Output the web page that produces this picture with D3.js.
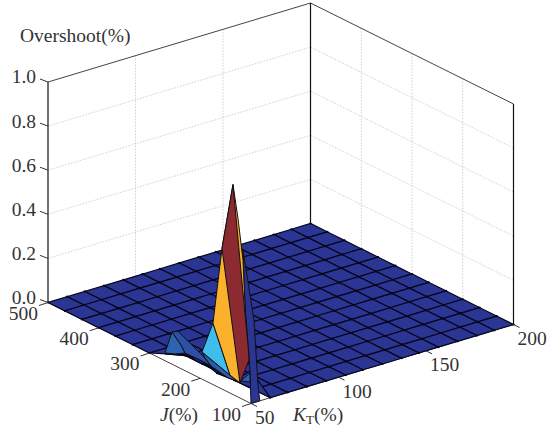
<!DOCTYPE html>
<html>
<head>
<meta charset="utf-8">
<script src="https://cdn.jsdelivr.net/npm/d3@7"></script>
<style>
  html, body { margin: 0; padding: 0; background: #fff; }
  text { font-family: "Liberation Serif", serif; font-size: 19.5px; fill: #333; }
</style>
</head>
<body>
<div id="chart"></div>
<script>
const kTicks = [50, 100, 150, 200];
const jTicks = [100, 200, 300, 400, 500];
const zTicks = [0, 0.2, 0.4, 0.6, 0.8, 1.0];

// mesh lines of the surface
const kGrid = [50, 61, 71, 82, 93, 104, 114, 125, 136, 146, 157, 168, 179, 189, 200];
const jGrid = [100, 133, 167, 200, 233, 267, 300, 333, 367, 400, 433, 467, 500];
// overshoot along the K=50 edge, same order as jGrid. everything else on the mesh is 0
const edgeOvershoot = [0.15, 0.068, 0.061, 0.084, 0.072, 0.034, 0, 0, 0, 0, 0, 0, 0];

// raised facets near the corner: [K, J, overshoot]
const stripFacet = [[50, 100, 0], [55, 100, 0], [60, 120.7, 0.036], [60, 128.6, 0.321], [60, 150.2, 0.613], [60, 146.3, 0.369], [60, 136.5, 0.086]];
const bumpFront = [[60, 290.1, 0.083], [50, 269.5, 0.035], [50, 249.8, 0.053], [50, 230, 0.08], [60, 272.4, 0.044]];
const bumpSide = [[60, 290.1, 0.083], [60, 278.3, 0.1], [60, 225.1, 0.039], [50, 178.8, 0.08], [50, 200.5, 0.082], [50, 230, 0.08], [60, 272.4, 0.044]];
const shoulder = [[60, 231, 0.06], [60, 175.9, 0.018], [50, 125.6, 0.072], [50, 145.3, 0.064], [50, 178.8, 0.08], [60, 225.1, 0.039]];
const lowSlope = [[60, 209.4, 0.215], [60, 231, 0.06], [60, 175.9, 0.018]];
const midSlope = [[60, 170, 0.889], [60, 160.1, 0.747], [60, 150.2, 0.568], [60, 146.3, 0.369], [60, 156.2, 0.005], [60, 175.9, 0.018], [60, 209.4, 0.215], [60, 191.6, 0.575]];
const topSlope = [[60, 170, 0.889], [60, 191.6, 0.575], [60, 156.2, 0.005], [60, 138.4, 0.129], [60, 140.4, 0.195], [60, 156.2, 0.561]];
const footFacet = [[60, 154.2, 0.016], [60, 136.5, 0.073], [60, 136.5, 0.032]];

const width = 559;
const height = 430;

const svg = d3.select("#chart").append("svg")
  .attr("width", width)
  .attr("height", height);

// oblique projection, one pixel scale per data axis and screen direction
const kX = d3.scaleLinear().domain([50, 200]).range([0, 262.5]);
const kY = d3.scaleLinear().domain([50, 200]).range([0, -79]);
const jX = d3.scaleLinear().domain([100, 500]).range([0, -203]);
const jY = d3.scaleLinear().domain([100, 500]).range([0, -101]);
const zY = d3.scaleLinear().domain([0, 1]).range([0, -220.5]);

const project = (k, j, z) => [251 + kX(k) + jX(j), 403.5 + kY(k) + jY(j) + zY(z)];
const line = d3.line();
const polyPath = pts => line(pts.map(p => project(p[0], p[1], p[2]))) + "Z";

function seg(a, b, stroke, sw, dash) {
  const p = project(a[0], a[1], a[2]);
  const q = project(b[0], b[1], b[2]);
  svg.append("line")
    .attr("x1", p[0]).attr("y1", p[1])
    .attr("x2", q[0]).attr("y2", q[1])
    .attr("stroke", stroke)
    .attr("stroke-width", sw)
    .attr("stroke-dasharray", dash || null);
}

// dotted grid on both back walls
const gridColor = "#c4c4c4";
zTicks.slice(1, 5).forEach(z => {
  seg([50, 500, z], [200, 500, z], gridColor, 0.8, "1.5 1.5");
  seg([200, 500, z], [200, 100, z], gridColor, 0.8, "1.5 1.5");
});
kTicks.slice(1, 3).forEach(k => seg([k, 500, 0], [k, 500, 1], gridColor, 0.8, "1.5 1.5"));
jTicks.slice(1, 4).forEach(j => seg([200, j, 0], [200, j, 1], gridColor, 0.8, "1.5 1.5"));

// box edges
seg([50, 500, 1], [200, 500, 1], "#444", 1);
seg([200, 500, 1], [200, 100, 1], "#444", 1);
seg([50, 500, 0], [50, 500, 1], "#111", 1.2);
seg([200, 500, 0], [200, 500, 1], "#111", 1.2);
seg([200, 100, 0], [200, 100, 1], "#111", 1.2);
seg([50, 100, 0], [50, 500, 0], "#444", 1);
seg([50, 100, 0], [200, 100, 0], "#444", 1);

// surface mesh, back cells first
const zAt = (ki, ji) => (ki === 0 ? edgeOvershoot[ji] : 0);
const cells = [];
const nodes = [];
for (let ji = jGrid.length - 1; ji >= 0; ji--) {
  for (let ki = kGrid.length - 1; ki >= 0; ki--) {
    nodes.push(project(kGrid[ki], jGrid[ji], zAt(ki, ji)));
    if (ji === jGrid.length - 1 || ki === kGrid.length - 1) continue;
    cells.push([
      [kGrid[ki], jGrid[ji], zAt(ki, ji)],
      [kGrid[ki + 1], jGrid[ji], zAt(ki + 1, ji)],
      [kGrid[ki + 1], jGrid[ji + 1], zAt(ki + 1, ji + 1)],
      [kGrid[ki], jGrid[ji + 1], zAt(ki, ji + 1)]
    ]);
  }
}
svg.append("g").selectAll("path")
  .data(cells)
  .join("path")
  .attr("d", polyPath)
  .attr("fill", "#2b3593")
  .attr("stroke", "#06061c")
  .attr("stroke-width", 1.2);

// blobs where the mesh lines cross
svg.append("g").selectAll("circle")
  .data(nodes)
  .join("circle")
  .attr("cx", d => d[0])
  .attr("cy", d => d[1])
  .attr("r", 1.1)
  .attr("fill", "#05051a");

// raised part of the surface
const facets = [
  [stripFacet, "#2b3593"],
  [bumpFront, "#2e63b0"],
  [bumpSide, "#2b50a6"],
  [shoulder, "#2b5cac"],
  [lowSlope, "#3fbeee"],
  [midSlope, "#fbb12b"],
  [topSlope, "#8b2a30"],
  [footFacet, "#2e63b0"]
];
svg.append("g").selectAll("path")
  .data(facets)
  .join("path")
  .attr("d", d => polyPath(d[0]))
  .attr("fill", d => d[1])
  .attr("stroke", "#111")
  .attr("stroke-width", 1)
  .attr("stroke-linejoin", "round");

// z axis ticks and labels
zTicks.forEach(z => {
  const p = project(50, 500, z);
  svg.append("line")
    .attr("x1", p[0] - 8).attr("y1", p[1] - 3)
    .attr("x2", p[0]).attr("y2", p[1])
    .attr("stroke", "#333");
  svg.append("text")
    .attr("x", p[0] - 12)
    .attr("y", p[1] - 5)
    .attr("dy", "0.33em")
    .attr("text-anchor", "end")
    .text(z.toFixed(1));
});

// J ticks
jTicks.forEach(j => {
  const p = project(50, j, 0);
  svg.append("line")
    .attr("x1", p[0] - 9).attr("y1", p[1] + 3)
    .attr("x2", p[0]).attr("y2", p[1])
    .attr("stroke", "#333");
  svg.append("text")
    .attr("x", p[0] - 10)
    .attr("y", p[1] + 11)
    .attr("dy", "0.33em")
    .attr("text-anchor", "end")
    .text(j);
});

// K ticks
kTicks.forEach(k => {
  const p = project(k, 100, 0);
  svg.append("line")
    .attr("x1", p[0]).attr("y1", p[1])
    .attr("x2", p[0] + 6).attr("y2", p[1] + 3)
    .attr("stroke", "#333");
  svg.append("text")
    .attr("x", p[0] + 4)
    .attr("y", p[1] + 14)
    .attr("dy", "0.33em")
    .text(k);
});

// axis titles
svg.append("text").attr("x", 20).attr("y", 42).text("Overshoot(%)");

const jLabel = svg.append("text").attr("x", 160).attr("y", 421);
jLabel.append("tspan").attr("font-style", "italic").text("J");
jLabel.append("tspan").text("(%)");

const kLabel = svg.append("text").attr("x", 293).attr("y", 421);
kLabel.append("tspan").attr("font-style", "italic").text("K");
kLabel.append("tspan").attr("dy", 3).style("font-size", "13px").text("T");
kLabel.append("tspan").attr("dy", -3).text("(%)");
</script>
</body>
</html>
